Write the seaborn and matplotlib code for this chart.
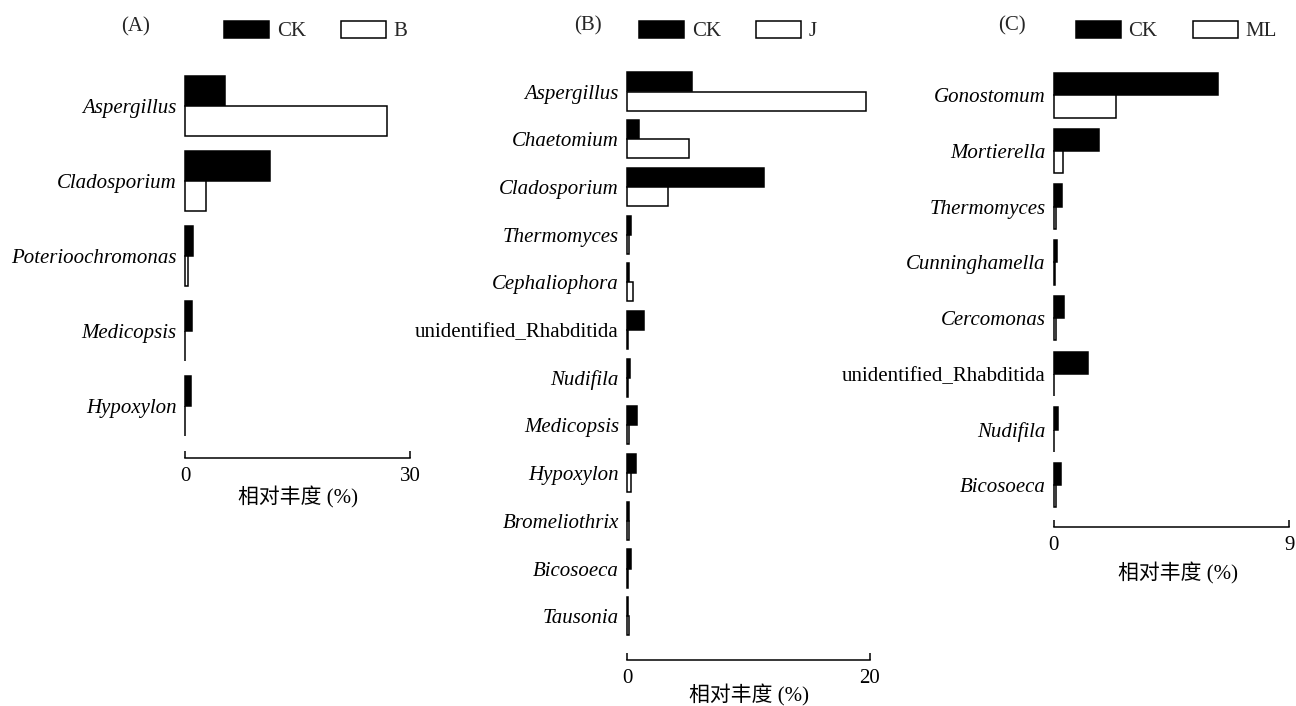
import numpy as np
import pandas as pd
import matplotlib
matplotlib.use("Agg")
import matplotlib.pyplot as plt
from matplotlib.patches import Patch
import seaborn as sns

# ---------------- data ----------------
A_genus = ["Aspergillus", "Cladosporium", "Poterioochromonas", "Medicopsis", "Hypoxylon"]
A_ck = [5.3, 11.3, 1.1, 0.9, 0.8]
A_trt = [26.9, 2.8, 0.35, 0.05, 0.05]

B_genus = ["Aspergillus", "Chaetomium", "Cladosporium", "Thermomyces", "Cephaliophora",
           "unidentified_Rhabditida", "Nudifila", "Medicopsis", "Hypoxylon",
           "Bromeliothrix", "Bicosoeca", "Tausonia"]
B_ck = [5.3, 1.0, 11.3, 0.3, 0.15, 1.35, 0.22, 0.8, 0.74, 0.17, 0.28, 0.05]
B_trt = [19.65, 5.1, 3.33, 0.17, 0.5, 0.02, 0.05, 0.1, 0.33, 0.1, 0.08, 0.17]

C_genus = ["Gonostomum", "Mortierella", "Thermomyces", "Cunninghamella", "Cercomonas",
           "unidentified_Rhabditida", "Nudifila", "Bicosoeca"]
C_ck = [6.26, 1.73, 0.32, 0.14, 0.39, 1.31, 0.16, 0.28]
C_trt = [2.37, 0.36, 0.08, 0.05, 0.1, 0.02, 0.03, 0.09]

panel_tags = ["(A)", "(B)", "(C)"]
trt_names = ["B", "J", "ML"]
x_max = [30, 20, 9]
xlabel = "相对丰度 (%)"

# ---------------- style ----------------
sns.set_theme(style="white")
plt.rcParams["font.family"] = ["Liberation Serif", "Noto Sans CJK SC", "DejaVu Sans"]
plt.rcParams["axes.unicode_minus"] = False
FS = 15

W, H = 1296, 706
fig = plt.figure(figsize=(W / 100, H / 100), dpi=100)

# layout in pixels: left, width, first category centre, spacing, axis line y
layout = [
    dict(left=185, width=225, c0=106.0, sp=75.0, axis_y=457.5, xl=(297.5, 497), tag=(136, 27),
         leg=(224, 31)),
    dict(left=627.3, width=242.7, c0=91.5, sp=47.7, axis_y=659.6, xl=(749, 695), tag=(588, 26),
         leg=(639, 31)),
    dict(left=1053.7, width=235.6, c0=95.3, sp=55.7, axis_y=527.3, xl=(1178, 573), tag=(1012, 26),
         leg=(1075.7, 31)),
]

datasets = [(A_genus, A_ck, A_trt), (B_genus, B_ck, B_trt), (C_genus, C_ck, C_trt)]

for i, ((genus, ck, trt), L) in enumerate(zip(datasets, layout)):
    n = len(genus)
    pad_top = 0.6
    c_last = L["c0"] + (n - 1) * L["sp"]
    pad_bot = (L["axis_y"] - c_last) / L["sp"]
    top_px = L["c0"] - pad_top * L["sp"]
    ax = fig.add_axes([L["left"] / W, 1 - L["axis_y"] / H, L["width"] / W,
                       (L["axis_y"] - top_px) / H])

    tname = trt_names[i]
    df = pd.DataFrame({
        "genus": list(genus) * 2,
        "value": list(ck) + list(trt),
        "group": ["CK"] * n + [tname] * n,
    })
    sns.barplot(data=df, y="genus", x="value", hue="group", order=genus,
                hue_order=["CK", tname], palette={"CK": "black", tname: "white"},
                edgecolor="black", linewidth=1.1, orient="h", width=0.8,
                saturation=1, legend=False, ax=ax, errorbar=None)
    for p in ax.patches:
        p.set_clip_on(False)

    ax.set_ylim(n - 1 + pad_bot, -pad_top)
    ax.set_xlim(0, x_max[i])
    for s in ["top", "right", "left"]:
        ax.spines[s].set_visible(False)
    ax.spines["bottom"].set_linewidth(1.1)
    ax.spines["bottom"].set_color("black")
    ax.set_xticks([0, x_max[i]])
    ax.set_xticklabels(["0", str(x_max[i])])
    ax.tick_params(axis="x", direction="in", length=5, width=1.1, colors="black",
                   labelsize=FS, pad=6.5, bottom=True)
    ax.tick_params(axis="y", length=0, pad=6, labelsize=FS, labelcolor="black")
    ax.set_ylabel("")
    for lab in ax.get_yticklabels():
        if lab.get_text().startswith("unidentified"):
            lab.set_fontstyle("normal")
        else:
            lab.set_fontstyle("italic")
    ax.grid(False)

    ax.set_xlabel(xlabel, fontsize=FS, va="center", color="black")
    ax_h = L["axis_y"] - top_px
    ax.xaxis.set_label_coords((L["xl"][0] - L["left"]) / L["width"],
                              -(L["xl"][1] - L["axis_y"]) / ax_h)

    fig.text(L["tag"][0] / W, 1 - L["tag"][1] / H, panel_tags[i], fontsize=FS,
             ha="center", va="center")

    handles = [Patch(facecolor="black", edgecolor="black", linewidth=1.1),
               Patch(facecolor="white", edgecolor="black", linewidth=1.1)]
    fig.legend(handles, ["CK", tname], loc="center left",
               bbox_to_anchor=(L["leg"][0] / W, 1 - L["leg"][1] / H),
               bbox_transform=fig.transFigure, ncol=2, frameon=False,
               borderpad=0, borderaxespad=0, handlelength=2.16, handleheight=0.91,
               handletextpad=0.38, columnspacing=1.68, fontsize=FS)

fig.savefig("out.png", dpi=100, facecolor="white")
